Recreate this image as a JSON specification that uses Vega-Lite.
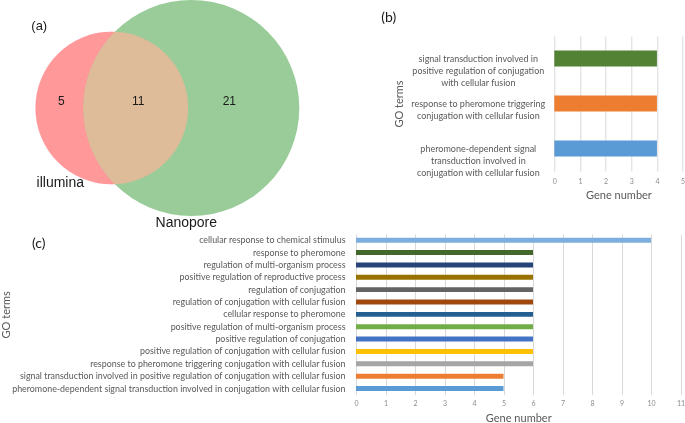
{
  "$schema": "https://vega.github.io/schema/vega-lite/v6.json",
  "padding": 0,
  "background": "white",
  "config": {
    "view": {"stroke": null},
    "font": "Lato",
    "axisX": {"grid": true, "gridColor": "#D9D9D9", "gridWidth": 1, "domain": false, "ticks": false, "labelFlush": false, "labelColor": "#8C8C8C", "labelFontSize": 7, "titleColor": "#595959", "titleFontSize": 11, "titleFontWeight": "normal", "labelFont": "Lato", "titleFont": "Lato"},
    "axisY": {"grid": false, "domain": false, "ticks": false, "labelColor": "#595959", "labelLimit": 500, "titleColor": "#595959", "titleFontSize": 11, "titleFontWeight": "normal", "labelFont": "Lato", "titleFont": "Lato"}
  },
  "datasets": {
    "sets": [
      {"set": "illumina", "total": 16},
      {"set": "Nanopore", "total": 32}
    ],
    "regions": [
      {"region": "illumina only", "count": 5},
      {"region": "both", "count": 11},
      {"region": "Nanopore only", "count": 21}
    ],
    "goB": [
      {"term": "signal transduction involved in|positive regulation of conjugation|with cellular fusion", "genes": 4},
      {"term": "response to pheromone triggering|conjugation with cellular fusion", "genes": 4},
      {"term": "pheromone-dependent signal|transduction involved in|conjugation with cellular fusion", "genes": 4}
    ],
    "goC": [
      {"term": "cellular response to chemical stimulus", "genes": 10},
      {"term": "response to pheromone", "genes": 6},
      {"term": "regulation of multi-organism process", "genes": 6},
      {"term": "positive regulation of reproductive process", "genes": 6},
      {"term": "regulation of conjugation", "genes": 6},
      {"term": "regulation of conjugation with cellular fusion", "genes": 6},
      {"term": "cellular response to pheromone", "genes": 6},
      {"term": "positive regulation of multi-organism process", "genes": 6},
      {"term": "positive regulation of conjugation", "genes": 6},
      {"term": "positive regulation of conjugation with cellular fusion", "genes": 6},
      {"term": "response to pheromone triggering conjugation with cellular fusion", "genes": 6},
      {"term": "signal transduction involved in positive regulation of conjugation with cellular fusion", "genes": 5},
      {"term": "pheromone-dependent signal transduction involved in conjugation with cellular fusion", "genes": 5}
    ]
  },
  "columns": 1,
  "spacing": 4,
  "align": "none",
  "resolve": {"scale": {"color": "independent"}},
  "concat": [
    {
      "hconcat": [
        {
          "width": 1,
          "height": 144,
          "title": {"text": "(a)", "anchor": "start", "frame": "group", "dx": -324.7, "offset": -39, "baseline": "middle", "font": "Liberation Sans", "fontSize": 13, "fontWeight": "normal", "color": "#1a1a1a"},
          "layer": [
            {
              "data": {"name": "sets"},
              "mark": {"type": "circle", "opacity": 1},
              "encoding": {
                "x": {"field": "set", "type": "nominal", "axis": null, "scale": {"type": "point", "padding": 0, "domain": ["illumina", "Nanopore"], "range": [-244.2, -164.7]}},
                "size": {"field": "total", "type": "quantitative", "legend": null, "scale": {"domain": [0, 32], "range": [0, 46656]}},
                "color": {"field": "set", "type": "nominal", "legend": null, "scale": {"domain": ["illumina", "Nanopore"], "range": ["#FF9999", "#99CC99"]}}
              }
            },
            {
              "data": {"name": "sets"},
              "transform": [{"filter": "datum.set === 'illumina'"}],
              "mark": {"type": "circle", "opacity": 1, "color": "#DE9999", "blend": "lighten"},
              "encoding": {
                "x": {"field": "set", "type": "nominal", "axis": null, "scale": {"type": "point", "padding": 0, "domain": ["illumina", "Nanopore"], "range": [-244.2, -164.7]}},
                "size": {"field": "total", "type": "quantitative", "legend": null, "scale": {"domain": [0, 32], "range": [0, 46656]}}
              }
            },
            {
              "data": {"name": "sets"},
              "transform": [{"filter": "datum.set === 'illumina'"}],
              "mark": {"type": "circle", "opacity": 1, "color": "#FFBBFF", "blend": "darken"},
              "encoding": {
                "x": {"field": "set", "type": "nominal", "axis": null, "scale": {"type": "point", "padding": 0, "domain": ["illumina", "Nanopore"], "range": [-244.2, -164.7]}},
                "size": {"field": "total", "type": "quantitative", "legend": null, "scale": {"domain": [0, 32], "range": [0, 46656]}}
              }
            },
            {
              "data": {"name": "regions"},
              "transform": [{"filter": "datum.region !== 'both'"}],
              "mark": {"type": "text", "font": "Liberation Sans", "fontSize": 12, "color": "#1a1a1a", "baseline": "middle", "dy": -7},
              "encoding": {
                "x": {"field": "region", "type": "nominal", "axis": null, "scale": {"type": "point", "padding": 0, "domain": ["illumina only", "Nanopore only"], "range": [-294.7, -126.7]}},
                "text": {"field": "count", "type": "quantitative"}
              }
            },
            {
              "data": {"name": "regions"},
              "transform": [{"filter": "datum.region === 'both'"}],
              "mark": {"type": "text", "font": "Liberation Sans", "fontSize": 12, "color": "#1a1a1a", "baseline": "middle", "dy": -7},
              "encoding": {
                "x": {"field": "region", "type": "nominal", "axis": null, "scale": {"type": "point", "padding": 0, "domain": ["both"], "range": [-217.7, -217.7]}},
                "text": {"field": "count", "type": "quantitative"}
              }
            },
            {
              "data": {"name": "sets"},
              "mark": {"type": "text", "font": "Liberation Sans", "fontSize": 14, "color": "#1a1a1a", "baseline": "middle"},
              "encoding": {
                "x": {"field": "set", "type": "nominal", "axis": null, "scale": {"type": "point", "padding": 0, "domain": ["illumina", "Nanopore"], "range": [-295.7, -169.7]}},
                "y": {"field": "set", "type": "nominal", "axis": null, "scale": {"type": "point", "padding": 0, "domain": ["illumina", "Nanopore"], "range": [147.3, 186.7]}},
                "text": {"field": "set", "type": "nominal"}
              }
            }
          ],
          "resolve": {"scale": {"x": "independent", "y": "independent", "size": "independent", "color": "independent"}}
        },
        {
          "width": 128.3,
          "height": 135,
          "title": {"text": "(b)", "anchor": "start", "frame": "group", "dx": -173, "offset": 4, "baseline": "middle", "font": "Lato", "fontSize": 14, "fontWeight": "normal", "color": "#1a1a1a"},
          "data": {"name": "goB"},
          "mark": {"type": "bar"},
          "encoding": {
            "y": {"field": "term", "type": "nominal", "sort": null, "scale": {"paddingInner": 0.645, "paddingOuter": 0.3225},
                  "axis": {"title": "GO terms", "labelExpr": "split(datum.label, '|')", "labelAlign": "center", "labelPadding": 76.5, "labelLineHeight": 12, "labelFontSize": 9, "labelLimit": 500, "titleX": -155, "titleBaseline": "middle"}},
            "x": {"field": "genes", "type": "quantitative", "scale": {"domain": [0, 5]},
                  "axis": {"title": "Gene number", "values": [0, 1, 2, 3, 4, 5], "labelPadding": 6, "titlePadding": 5}},
            "color": {"field": "term", "type": "nominal", "legend": null, "scale": {
              "domain": [
                "signal transduction involved in|positive regulation of conjugation|with cellular fusion",
                "response to pheromone triggering|conjugation with cellular fusion",
                "pheromone-dependent signal|transduction involved in|conjugation with cellular fusion"
              ],
              "range": ["#548235", "#ED7D31", "#5B9BD5"]}}
          }
        }
      ],
      "spacing": 197.3,
      "bounds": "flush"
    },
    {
      "width": 324.5,
      "height": 160.7,
      "title": {"text": "(c)", "anchor": "start", "frame": "group", "dx": -324, "offset": -23.5, "baseline": "middle", "font": "Lato", "fontSize": 14, "fontWeight": "normal", "color": "#1a1a1a"},
      "data": {"name": "goC"},
      "mark": {"type": "bar"},
      "encoding": {
        "y": {"field": "term", "type": "nominal", "sort": null, "scale": {"paddingInner": 0.6, "paddingOuter": 0.3},
              "axis": {"title": "GO terms", "labelPadding": 11, "labelFontSize": 8.9, "labelLimit": 500, "titleX": -349.9, "titleBaseline": "middle"}},
        "x": {"field": "genes", "type": "quantitative", "scale": {"domain": [0, 11]},
              "axis": {"title": "Gene number", "values": [0, 1, 2, 3, 4, 5, 6, 7, 8, 9, 10, 11], "labelPadding": 5, "titlePadding": 6}},
        "color": {"field": "term", "type": "nominal", "legend": null, "scale": {
          "domain": [
            "cellular response to chemical stimulus",
            "response to pheromone",
            "regulation of multi-organism process",
            "positive regulation of reproductive process",
            "regulation of conjugation",
            "regulation of conjugation with cellular fusion",
            "cellular response to pheromone",
            "positive regulation of multi-organism process",
            "positive regulation of conjugation",
            "positive regulation of conjugation with cellular fusion",
            "response to pheromone triggering conjugation with cellular fusion",
            "signal transduction involved in positive regulation of conjugation with cellular fusion",
            "pheromone-dependent signal transduction involved in conjugation with cellular fusion"
          ],
          "range": ["#7CAFDD", "#43682B", "#264478", "#997300", "#636363", "#9E480E", "#255E91", "#70AD47", "#4472C4", "#FFC000", "#A5A5A5", "#ED7D31", "#5B9BD5"]}}
      }
    }
  ]
}
